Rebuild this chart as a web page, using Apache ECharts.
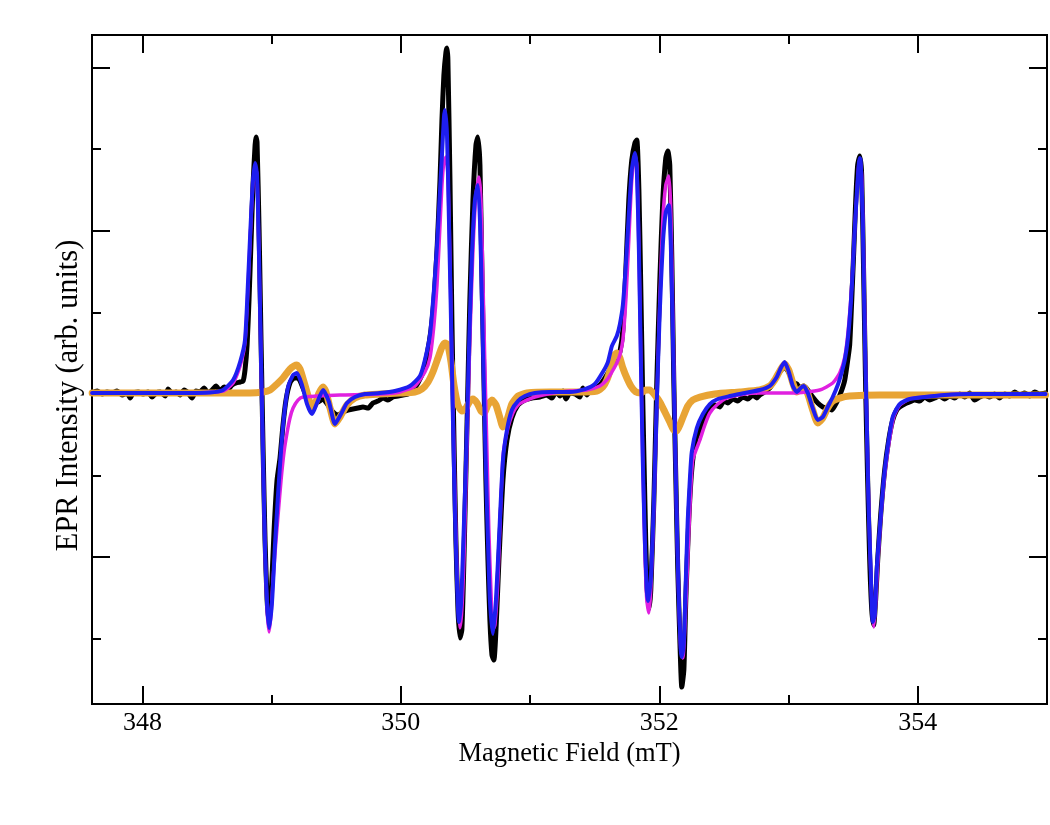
<!DOCTYPE html>
<html><head><meta charset="utf-8">
<script src="https://cdn.jsdelivr.net/npm/echarts@6/dist/echarts.min.js"></script>
<style>html,body{margin:0;padding:0;background:#fff}#c{width:1050px;height:825px}</style>
</head><body><div id="c"></div>
<script>
// ---- tick values ----
const xMajorTicks = [348, 350, 352, 354];
const xMinorTicks = [349, 351, 353];
const yMajorTicks = [-2, 0, 2, 4];
const yMinorTicks = [-3, -1, 1, 3];
const xRange = [347.61, 355.0];
const yRange = [-3.799, 4.400];
const xTitle = 'Magnetic Field (mT)';
const yTitle = 'EPR Intensity (arb. units)';

// ---- series values: [field (mT), intensity (arb.)] ----
const experimental = [
[347.611,0.012],[347.650,0.037],[347.688,0],[347.727,0.025],[347.766,0.012],[347.804,0.037],[347.843,-0.012],[347.882,0.012],[347.905,-0.049],[347.928,0.012],[347.967,0.025],[348.005,0],[348.044,0.025],[348.075,-0.037],[348.106,0.012],[348.137,0.025],[348.176,-0.025],[348.199,0.061],[348.230,0.012],[348.261,0.025],[348.292,-0.012],[348.323,0.049],[348.354,0.012],[348.384,-0.049],[348.415,0.037],[348.446,0.025],[348.477,0.074],[348.508,0.012],[348.539,0.049],[348.570,0.098],[348.601,0.037],[348.632,0.086],[348.663,0.061],[348.694,0.110],[348.725,0.135],[348.756,0.147],[348.779,0.159],[348.794,0.294],[348.810,0.600],[348.825,1.152],[348.841,1.887],[348.856,2.561],[348.872,3.051],[348.879,3.150],[348.887,3.088],[348.903,2.010],[348.918,0.662],[348.934,-0.686],[348.949,-1.789],[348.965,-2.524],[348.980,-2.794],[348.995,-2.524],[349.019,-1.667],[349.042,-1.054],[349.065,-0.784],[349.088,-0.380],[349.111,-0.074],[349.142,0.135],[349.173,0.196],[349.204,0.196],[349.243,0.074],[349.282,-0.074],[349.320,-0.123],[349.359,-0.098],[349.398,-0.061],[349.436,-0.135],[349.475,-0.221],[349.514,-0.257],[349.552,-0.221],[349.591,-0.196],[349.630,-0.184],[349.668,-0.172],[349.707,-0.159],[349.746,-0.172],[349.784,-0.110],[349.823,-0.086],[349.862,-0.049],[349.900,-0.074],[349.939,-0.037],[349.978,-0.025],[350.016,-0.012],[350.055,0],[350.094,0.049],[350.132,0.135],[350.171,0.270],[350.202,0.478],[350.233,0.784],[350.256,1.152],[350.280,1.765],[350.303,2.623],[350.318,3.358],[350.333,3.909],[350.349,4.191],[350.357,4.240],[350.364,4.093],[350.380,2.623],[350.395,0.907],[350.411,-0.564],[350.426,-1.789],[350.442,-2.647],[350.457,-2.990],[350.472,-2.892],[350.488,-2.034],[350.511,-0.441],[350.534,1.152],[350.558,2.377],[350.581,3.051],[350.596,3.150],[350.612,2.806],[350.627,1.520],[350.643,0.172],[350.658,-1.054],[350.674,-2.034],[350.689,-2.770],[350.705,-3.199],[350.720,-3.260],[350.736,-2.892],[350.759,-2.034],[350.790,-1.054],[350.821,-0.564],[350.859,-0.294],[350.906,-0.135],[350.960,-0.074],[351.014,-0.049],[351.076,-0.037],[351.130,-0.012],[351.169,-0.049],[351.200,0.025],[351.231,-0.025],[351.254,0.037],[351.277,-0.061],[351.308,0.012],[351.347,0],[351.385,-0.037],[351.408,0.074],[351.439,-0.012],[351.470,0.049],[351.509,0.074],[351.540,0.110],[351.579,0.196],[351.617,0.294],[351.648,0.380],[351.671,0.417],[351.695,0.515],[351.718,0.784],[351.741,1.520],[351.764,2.377],[351.787,2.868],[351.811,3.076],[351.826,3.113],[351.842,2.500],[351.857,1.275],[351.872,-0.074],[351.888,-1.299],[351.903,-2.279],[351.919,-2.635],[351.934,-2.402],[351.958,-1.299],[351.981,0.172],[352.004,1.397],[352.027,2.377],[352.050,2.892],[352.066,2.978],[352.081,2.806],[352.097,1.642],[352.112,0.172],[352.128,-1.054],[352.143,-2.157],[352.159,-3.015],[352.174,-3.591],[352.190,-3.382],[352.205,-2.524],[352.228,-1.544],[352.251,-0.931],[352.282,-0.564],[352.314,-0.441],[352.352,-0.294],[352.391,-0.159],[352.429,-0.135],[352.468,-0.159],[352.499,-0.086],[352.530,-0.110],[352.569,-0.061],[352.607,-0.086],[352.646,-0.037],[352.685,-0.061],[352.723,-0.012],[352.754,-0.049],[352.777,-0.012],[352.816,0.025],[352.855,0.074],[352.893,0.172],[352.932,0.270],[352.970,0.331],[353.009,0.245],[353.040,0.135],[353.064,0.123],[353.087,0.074],[353.118,0.098],[353.149,0.049],[353.187,-0.037],[353.226,-0.110],[353.265,-0.159],[353.303,-0.172],[353.334,-0.196],[353.357,-0.147],[353.381,-0.074],[353.412,0.049],[353.435,0.172],[353.458,0.417],[353.473,0.600],[353.489,1.152],[353.505,1.765],[353.520,2.377],[353.535,2.806],[353.551,2.917],[353.566,2.684],[353.582,1.397],[353.597,0.049],[353.612,-1.054],[353.628,-2.034],[353.644,-2.647],[353.659,-2.831],[353.674,-2.524],[353.690,-2.034],[353.713,-1.483],[353.744,-0.931],[353.775,-0.564],[353.806,-0.319],[353.837,-0.196],[353.860,-0.159],[353.899,-0.123],[353.937,-0.098],[353.976,-0.074],[354.015,-0.086],[354.053,-0.037],[354.092,-0.074],[354.131,-0.049],[354.169,-0.025],[354.208,-0.061],[354.247,-0.025],[354.286,-0.049],[354.324,0],[354.363,-0.037],[354.401,0.012],[354.440,-0.074],[354.479,-0.037],[354.517,-0.012],[354.556,-0.037],[354.595,0],[354.633,-0.049],[354.672,0],[354.711,-0.025],[354.750,0.025],[354.788,-0.012],[354.827,0.012],[354.866,-0.025],[354.904,0.025],[354.943,0],[354.989,0.012]
];
const simComponentA = [ // magenta
[347.611,0.012],[348.292,0.012],[348.624,0.037],[348.702,0.135],[348.756,0.343],[348.794,0.637],[348.818,1.336],[348.841,2.157],[348.856,2.586],[348.872,2.794],[348.887,2.684],[348.903,1.642],[348.918,0.417],[348.934,-0.809],[348.949,-1.912],[348.965,-2.647],[348.980,-2.917],[348.995,-2.708],[349.011,-2.279],[349.034,-1.789],[349.050,-1.483],[349.073,-1.054],[349.096,-0.711],[349.119,-0.478],[349.142,-0.294],[349.166,-0.172],[349.204,-0.074],[349.243,-0.037],[349.351,-0.025],[349.529,-0.012],[349.838,0],[349.993,0.025],[350.109,0.098],[350.186,0.270],[350.225,0.441],[350.256,0.846],[350.280,1.336],[350.303,2.071],[350.318,2.561],[350.333,2.843],[350.349,2.904],[350.364,2.684],[350.380,1.642],[350.395,0.417],[350.411,-0.686],[350.426,-1.667],[350.442,-2.524],[350.457,-2.868],[350.472,-2.647],[350.488,-2.034],[350.511,-0.686],[350.534,0.662],[350.558,1.765],[350.581,2.439],[350.604,2.659],[350.620,2.377],[350.635,1.397],[350.651,0.294],[350.666,-0.686],[350.681,-1.667],[350.697,-2.402],[350.712,-2.892],[350.728,-2.831],[350.751,-2.279],[350.790,-0.772],[350.828,-0.417],[350.867,-0.233],[350.906,-0.135],[350.944,-0.098],[351.037,-0.037],[351.176,0.012],[351.308,0.037],[351.439,0.049],[351.540,0.098],[351.594,0.172],[351.633,0.270],[351.671,0.380],[351.695,0.478],[351.718,0.662],[351.741,1.152],[351.764,1.887],[351.787,2.623],[351.811,2.929],[351.826,2.806],[351.842,1.765],[351.857,0.417],[351.872,-0.809],[351.888,-1.912],[351.903,-2.524],[351.919,-2.684],[351.934,-2.402],[351.958,-1.422],[351.981,-0.074],[352.004,1.152],[352.027,2.132],[352.050,2.561],[352.074,2.672],[352.089,2.255],[352.104,1.029],[352.120,-0.319],[352.135,-1.544],[352.151,-2.524],[352.166,-3.137],[352.182,-3.235],[352.197,-2.892],[352.220,-2.034],[352.236,-1.422],[352.259,-0.809],[352.314,-0.564],[352.352,-0.380],[352.391,-0.233],[352.453,-0.123],[352.522,-0.049],[352.661,0],[352.777,0.012],[353.033,0.012],[353.241,0.049],[353.342,0.135],[353.396,0.257],[353.435,0.453],[353.458,0.723],[353.481,1.152],[353.497,1.544],[353.512,2.010],[353.528,2.439],[353.543,2.806],[353.551,2.868],[353.566,2.684],[353.582,1.642],[353.597,0.294],[353.612,-0.809],[353.628,-1.789],[353.644,-2.524],[353.659,-2.855],[353.674,-2.586],[353.690,-2.096],[353.713,-1.544],[353.744,-0.993],[353.775,-0.625],[353.814,-0.282],[353.860,-0.135],[353.937,-0.061],[354.053,-0.037],[354.208,-0.012],[354.401,0],[354.989,0]
];
const simComponentB = [ // orange
[347.611,0.012],[348.060,0.012],[348.446,0.012],[348.833,0.012],[348.934,0.025],[348.988,0.049],[349.042,0.123],[349.088,0.196],[349.142,0.306],[349.173,0.343],[349.196,0.355],[349.220,0.306],[349.251,0.147],[349.282,-0.025],[349.312,-0.172],[349.336,-0.123],[349.367,0.012],[349.398,0.086],[349.421,0.025],[349.452,-0.172],[349.490,-0.368],[349.529,-0.282],[349.583,-0.135],[349.645,-0.049],[349.722,-0.012],[349.838,0],[349.993,0.012],[350.109,0.025],[350.163,0.061],[350.210,0.147],[350.248,0.270],[350.287,0.441],[350.318,0.576],[350.341,0.625],[350.364,0.600],[350.388,0.392],[350.411,0.110],[350.442,-0.135],[350.472,-0.208],[350.504,-0.172],[350.534,-0.086],[350.558,-0.061],[350.589,-0.110],[350.620,-0.208],[350.643,-0.233],[350.674,-0.135],[350.705,-0.074],[350.736,-0.135],[350.767,-0.294],[350.790,-0.404],[350.821,-0.319],[350.859,-0.123],[350.906,-0.025],[350.975,0.012],[351.153,0.025],[351.385,0.025],[351.517,0.037],[351.563,0.086],[351.594,0.172],[351.625,0.319],[351.648,0.466],[351.671,0.502],[351.695,0.441],[351.718,0.319],[351.749,0.196],[351.780,0.098],[351.818,0.025],[351.857,0.012],[351.896,0.049],[351.926,0.049],[351.965,-0.012],[352.004,-0.098],[352.043,-0.221],[352.081,-0.343],[352.112,-0.441],[352.135,-0.453],[352.159,-0.380],[352.190,-0.257],[352.220,-0.147],[352.259,-0.074],[352.314,-0.037],[352.429,0],[352.623,0.025],[352.777,0.049],[352.855,0.098],[352.893,0.172],[352.932,0.282],[352.970,0.368],[353.002,0.294],[353.033,0.135],[353.064,0.025],[353.094,0.061],[353.118,0.086],[353.149,0],[353.187,-0.196],[353.226,-0.355],[353.265,-0.294],[353.303,-0.172],[353.342,-0.086],[353.396,-0.049],[353.473,-0.025],[353.705,-0.012],[354.247,-0.012],[354.989,-0.012]
];
const simTotal = [ // blue
[347.611,0.012],[347.982,0.012],[348.292,0.012],[348.524,0.018],[348.624,0.049],[348.702,0.172],[348.756,0.392],[348.794,0.662],[348.818,1.397],[348.841,2.194],[348.856,2.623],[348.872,2.831],[348.887,2.684],[348.903,1.642],[348.918,0.417],[348.934,-0.809],[348.949,-1.912],[348.965,-2.586],[348.980,-2.868],[349.003,-2.549],[349.026,-1.850],[349.050,-1.225],[349.073,-0.686],[349.096,-0.270],[349.127,0.086],[349.166,0.233],[349.196,0.257],[349.235,0.110],[349.274,-0.123],[349.312,-0.245],[349.351,-0.110],[349.398,0.049],[349.444,-0.098],[349.490,-0.368],[349.537,-0.245],[349.583,-0.110],[349.645,-0.037],[349.722,0],[349.838,0.012],[349.954,0.037],[350.070,0.098],[350.148,0.221],[350.186,0.417],[350.225,0.723],[350.256,1.275],[350.280,1.826],[350.303,2.500],[350.318,2.929],[350.333,3.382],[350.341,3.480],[350.357,3.174],[350.372,2.132],[350.388,0.907],[350.403,-0.319],[350.418,-1.422],[350.434,-2.279],[350.449,-2.794],[350.465,-2.586],[350.480,-1.973],[350.504,-0.809],[350.527,0.539],[350.550,1.703],[350.573,2.377],[350.596,2.561],[350.612,2.132],[350.627,1.152],[350.643,0.049],[350.658,-0.931],[350.674,-1.789],[350.689,-2.524],[350.712,-2.941],[350.736,-2.524],[350.759,-1.789],[350.790,-0.809],[350.821,-0.441],[350.859,-0.196],[350.906,-0.086],[350.960,-0.025],[351.037,0.012],[351.153,0.025],[351.308,0.025],[351.424,0.061],[351.501,0.123],[351.563,0.270],[351.602,0.392],[351.633,0.588],[351.671,0.711],[351.695,0.858],[351.718,1.091],[351.741,1.581],[351.764,2.194],[351.787,2.745],[351.811,2.953],[351.826,2.745],[351.842,1.765],[351.857,0.417],[351.872,-0.809],[351.888,-1.789],[351.903,-2.402],[351.911,-2.537],[351.934,-2.279],[351.958,-1.299],[351.981,-0.074],[352.004,1.029],[352.027,1.826],[352.050,2.230],[352.074,2.316],[352.089,1.826],[352.104,0.784],[352.120,-0.441],[352.135,-1.544],[352.151,-2.524],[352.166,-3.137],[352.174,-3.223],[352.190,-3.015],[352.205,-2.279],[352.220,-1.544],[352.236,-1.054],[352.251,-0.711],[352.290,-0.417],[352.337,-0.245],[352.391,-0.123],[352.453,-0.061],[352.545,-0.025],[352.661,0.012],[352.777,0.049],[352.855,0.098],[352.909,0.208],[352.940,0.319],[352.970,0.392],[353.002,0.270],[353.033,0.098],[353.064,0.025],[353.094,0.074],[353.118,0.098],[353.149,0.012],[353.187,-0.172],[353.226,-0.319],[353.265,-0.282],[353.303,-0.159],[353.342,-0.037],[353.381,0.110],[353.412,0.270],[353.435,0.417],[353.458,0.662],[353.481,1.091],[353.497,1.520],[353.512,2.010],[353.528,2.439],[353.543,2.806],[353.551,2.892],[353.558,2.868],[353.574,2.132],[353.589,0.784],[353.605,-0.319],[353.620,-1.422],[353.636,-2.157],[353.651,-2.794],[353.667,-2.708],[353.682,-2.157],[353.705,-1.667],[353.736,-1.054],[353.767,-0.650],[353.806,-0.282],[353.860,-0.123],[353.937,-0.061],[354.053,-0.037],[354.208,-0.012],[354.401,0],[354.989,0]
];

const FONT = 'Liberation Serif, Times New Roman, serif';
function xAx(pos, ticks, len, labels, name) {
  return {
    type: 'value', position: pos, min: xRange[0], max: xRange[1],
    axisLine: { show: true, onZero: false, lineStyle: { color: '#000', width: 2 } },
    axisTick: { show: true, inside: true, length: len, customValues: ticks, lineStyle: { color: '#000', width: 2 } },
    axisLabel: labels ? { show: true, customValues: ticks, margin: 6, color: '#000', fontFamily: FONT, fontSize: 26 } : { show: false },
    splitLine: { show: false },
    name: name || '', nameLocation: 'middle', nameGap: 36,
    nameTextStyle: { color: '#000', fontFamily: FONT, fontSize: 26.5 }
  };
}
function yAx(pos, ticks, len, name) {
  return {
    type: 'value', position: pos, min: yRange[0], max: yRange[1],
    axisLine: { show: true, onZero: false, lineStyle: { color: '#000', width: 2 } },
    axisTick: { show: true, inside: true, length: len, customValues: ticks, lineStyle: { color: '#000', width: 2 } },
    axisLabel: { show: false },
    splitLine: { show: false },
    name: name || '', nameLocation: 'middle', nameGap: 8, nameRotate: 90,
    nameTextStyle: { color: '#000', fontFamily: FONT, fontSize: 30.5, padding: [0, 52, 0, 0] }
  };
}
function line(data, color, width, z) {
  return { type: 'line', data: data, xAxisIndex: 0, yAxisIndex: 0, showSymbol: false, symbol: 'none',
    smooth: 0.2, lineStyle: { color: color, width: width, join: 'round', cap: 'round' }, z: z, animation: false, silent: true };
}
const chart = echarts.init(document.getElementById('c'), null, { renderer: 'canvas' });
chart.setOption({
  backgroundColor: '#fff',
  animation: false,
  grid: { left: 92, right: 3, top: 35, bottom: 121, containLabel: false },
  xAxis: [
    xAx('bottom', xMajorTicks, 18, true, xTitle),
    xAx('bottom', xMinorTicks, 9, false),
    xAx('top', xMajorTicks, 18, false),
    xAx('top', xMinorTicks, 9, false)
  ],
  yAxis: [
    yAx('left', yMajorTicks, 18, yTitle),
    yAx('left', yMinorTicks, 9),
    yAx('right', yMajorTicks, 18),
    yAx('right', yMinorTicks, 9)
  ],
  series: [
    line(experimental, '#000000', 5, 2),
    line(simComponentB, '#E8A435', 7, 3),
    line(simComponentA, '#E020E0', 3.5, 4),
    line(simTotal, '#1E1EF0', 4, 5)
  ]
});
</script></body></html>
